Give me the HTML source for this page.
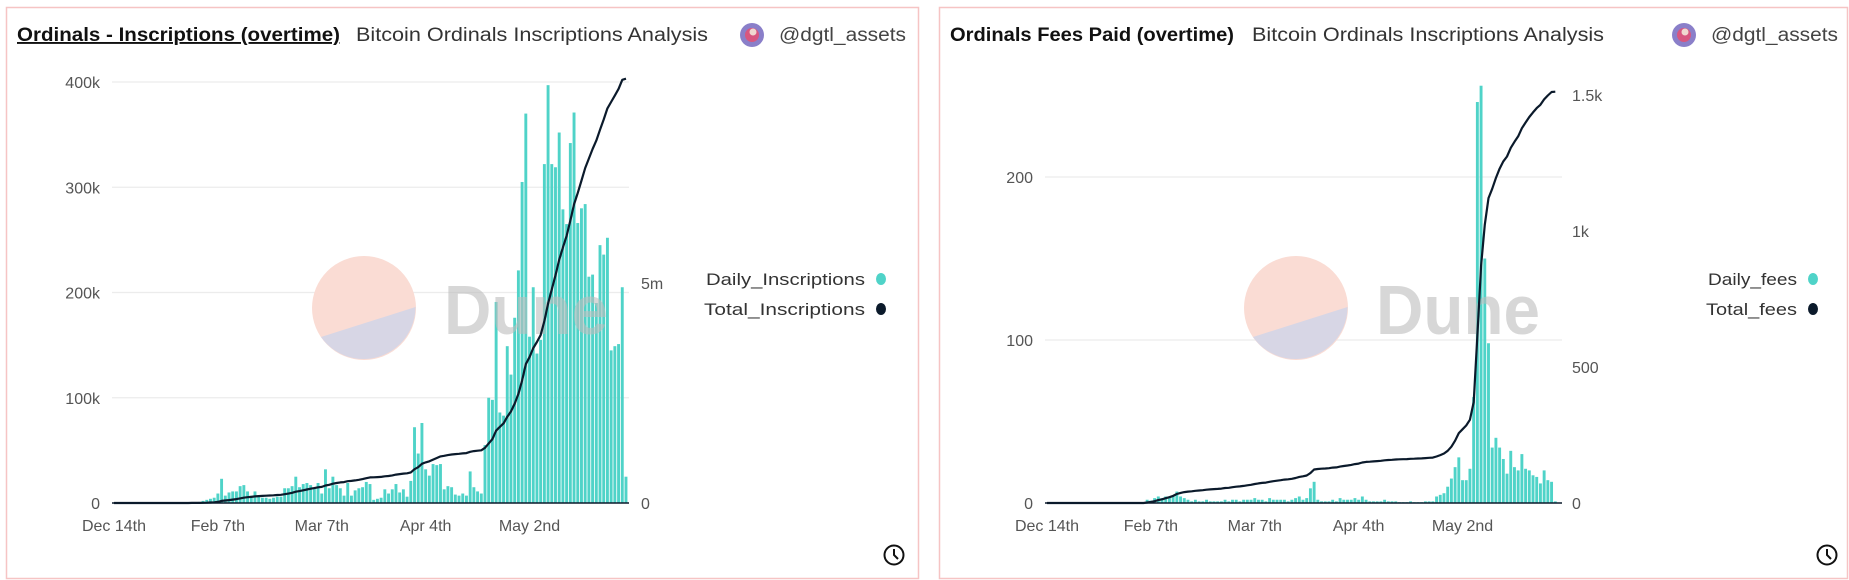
<!DOCTYPE html>
<html><head><meta charset="utf-8"><style>
html,body{margin:0;padding:0;background:#fff;width:1849px;height:580px;overflow:hidden}
svg{display:block;font-family:"Liberation Sans",sans-serif}
</style></head><body>
<svg id="root" width="1849" height="580" viewBox="0 0 1849 580" xmlns="http://www.w3.org/2000/svg">
<g id="p1">
 <rect x="6.5" y="7.5" width="912" height="571" fill="#fff" stroke="#f6c4c4" stroke-width="1.5"/>
 <text x="17" y="41" font-size="19" font-weight="bold" fill="#111" textLength="323" lengthAdjust="spacingAndGlyphs" text-decoration="underline">Ordinals - Inscriptions (overtime)</text>
 <text x="356" y="41" font-size="19" fill="#333" textLength="352" lengthAdjust="spacingAndGlyphs">Bitcoin Ordinals Inscriptions Analysis</text>
 <g><circle cx="752" cy="35" r="12" fill="#8a7fc9"/><circle cx="752" cy="35" r="7" fill="#d8567f"/><circle cx="753" cy="32" r="3.5" fill="#f0d9d0"/></g>
 <text x="779" y="41" font-size="19" fill="#444" textLength="127" lengthAdjust="spacingAndGlyphs">@dgtl_assets</text>
 <g id="c1"></g>
 <g>
  <text x="865" y="285" font-size="17" fill="#333" text-anchor="end" textLength="159" lengthAdjust="spacingAndGlyphs">Daily_Inscriptions</text>
  <ellipse cx="881" cy="279" rx="5" ry="6" fill="#4fd3c8"/>
  <text x="865" y="315" font-size="17" fill="#333" text-anchor="end" textLength="161" lengthAdjust="spacingAndGlyphs">Total_Inscriptions</text>
  <ellipse cx="881" cy="309" rx="5" ry="6" fill="#0b1a2b"/>
 </g>
 <g><circle cx="894" cy="555" r="9.5" fill="none" stroke="#111" stroke-width="2"/><path d="M894 549v6l4 4" fill="none" stroke="#111" stroke-width="2"/></g>
</g>
<g id="p2">
 <rect x="939.5" y="7.5" width="908" height="571" fill="#fff" stroke="#f6c4c4" stroke-width="1.5"/>
 <text x="950" y="41" font-size="19" font-weight="bold" fill="#111" textLength="284" lengthAdjust="spacingAndGlyphs">Ordinals Fees Paid (overtime)</text>
 <text x="1252" y="41" font-size="19" fill="#333" textLength="352" lengthAdjust="spacingAndGlyphs">Bitcoin Ordinals Inscriptions Analysis</text>
 <g><circle cx="1684" cy="35" r="12" fill="#8a7fc9"/><circle cx="1684" cy="35" r="7" fill="#d8567f"/><circle cx="1685" cy="32" r="3.5" fill="#f0d9d0"/></g>
 <text x="1711" y="41" font-size="19" fill="#444" textLength="127" lengthAdjust="spacingAndGlyphs">@dgtl_assets</text>
 <g id="c2"></g>
 <g>
  <text x="1797" y="285" font-size="17" fill="#333" text-anchor="end" textLength="89" lengthAdjust="spacingAndGlyphs">Daily_fees</text>
  <ellipse cx="1813" cy="279" rx="5" ry="6" fill="#4fd3c8"/>
  <text x="1797" y="315" font-size="17" fill="#333" text-anchor="end" textLength="91" lengthAdjust="spacingAndGlyphs">Total_fees</text>
  <ellipse cx="1813" cy="309" rx="5" ry="6" fill="#0b1a2b"/>
 </g>
 <g><circle cx="1827" cy="555" r="9.5" fill="none" stroke="#111" stroke-width="2"/><path d="M1827 549v6l4 4" fill="none" stroke="#111" stroke-width="2"/></g>
</g>
</svg>
<script>
const xTickLabels = ["Dec 14th","Feb 7th","Mar 7th","Apr 4th","May 2nd"];
const xTickIndex = [0,28,56,84,112];
const insLeftTicks = [0,100,200,300,400];
const insLeftTickLabels = ["0","100k","200k","300k","400k"];
const insRightTicks = [0,5000];
const insRightTickLabels = ["0","5m"];
const feeLeftTicks = [0,100,200];
const feeLeftTickLabels = ["0","100","200"];
const feeRightTicks = [0,500,1000,1500];
const feeRightTickLabels = ["0","500","1k","1.5k"];
// daily inscriptions (thousands)
const dailyInscriptions = [
0,0,0,0,0,0,0,0,0,0,0,0,0,0,0,0,0,0,0.3,0.3,0.3,0.3,0.5,
1,2,3,4,5,9,23,7,10,11,11,16,17,11,7,11,6,5,
5,4,5,6,6,14,14,16,25,15,18,19,17,14,19,9,32,14,25,17,14,7,19,7,12,14,15,20,18,3,4,5,13,9,13,18,10,13,6,21,72,47,76,32,26,37,36,37,13,16,15,8,7,9,7,30,15,11,9,55,100,
98,191,86,83,149,122,176,221,305,370,158,205,142,155,322,397,322,319,352,279,265,342,371,266,280,284,215,217,190,245,236,252,145,149,151,205,25];
// daily fees (BTC)
const dailyFees = [
0,0,0,0,0,0,0,0,0,0,0,0,0,0,0,0,0,0,0,0,0,0,0,0,0,0,0,
2,1.5,3,4,3,4,4,4.5,7,4,3,2,1,2,
1,1,2,1,1,1,1,2,1,2,2,1,2,2,2,3,2,2,1,3,2,2,2,2,1,2,3,4,2,3,
9,13,2,
1,1,1,2,1,3,2,2,2,3,2,4,2,1,1,1,1,2,1,1,1,0.5,0.5,0.5,1,0.5,0.5,
0.5,1,1,1,4,5,6,10,15,22,28,14,14,21,65,246,256,150,98,34,40,34,27,18,32,22,20,30,21,20,17,16,12,20,14,13,1];
// running totals (cumulative of the daily series)
const totalInscriptions = []; {let s=0; for (const v of dailyInscriptions){s+=v; totalInscriptions.push(s);} }
const totalFees = []; {let s=0; for (const v of dailyFees){s+=v; totalFees.push(s);} }

const NS="http://www.w3.org/2000/svg";
function mk(parent, tag, attrs, text){const e=document.createElementNS(NS,tag);for(const k in attrs)e.setAttribute(k,attrs[k]);if(text!==undefined)e.textContent=text;parent.appendChild(e);return e;}

function drawChart(cfg){
  const g=document.getElementById(cfg.id);
  const step=3.71, x0=cfg.x0;
  const xs=i=>x0+i*step;
  const yL=v=>cfg.base-v*cfg.kL;
  const yR=v=>cfg.base-v*cfg.kR;
  // grid + left ticks
  cfg.lt.forEach((t,i)=>{
    if(t>0){const gl=mk(g,'line',{x1:cfg.gx0,x2:cfg.gx1,y1:yL(t),y2:yL(t),stroke:'#ececec','stroke-width':1.3});
      
      }
    const tx=mk(g,'text',{x:cfg.lx,y:yL(t)+6,'font-size':16,fill:'#555','text-anchor':'end'},cfg.ltl[i]);
    
    
  });
  cfg.rt.forEach((t,i)=>{
    const tx=mk(g,'text',{x:cfg.rx,y:yR(t)+6,'font-size':16,fill:'#555'},cfg.rtl[i]);
    
    
  });
  xTickIndex.forEach((ix,i)=>{
    const tx=mk(g,'text',{x:xs(ix),y:531,'font-size':16,fill:'#555','text-anchor':'middle'},xTickLabels[i]);
    
    
  });
  // bars
  cfg.daily.forEach((v,i)=>{
    const h=Math.max(0,v*cfg.kL);
    const r=mk(g,'rect',{x:xs(i)-1.45,y:cfg.base-h,width:2.9,height:h,fill:'#4fd3c8'});
    
    
  });
  // watermark
  const wm=mk(g,'g',{});
  
  
  const cx=cfg.wx, cy=308, R=52;
  mk(wm,'circle',{cx:cx,cy:cy,r:R,fill:'#fadcd4'});
  mk(wm,'path',{d:`M${cx-43} ${cy+29} L${cx+51.5} ${cy-1} A${R} ${R} 0 0 1 ${cx-43} ${cy+29} Z`,fill:'#d7d6e5'});
  mk(wm,'text',{x:cx+80,y:334,'font-size':70,'font-weight':'bold',fill:'#bdbdbd','fill-opacity':0.6,textLength:164,lengthAdjust:'spacingAndGlyphs'},'Dune');
  // baseline
  const bl=mk(g,'line',{x1:cfg.gx0,x2:cfg.gx1,y1:cfg.base,y2:cfg.base,stroke:'#0b1a2b','stroke-width':1.6});
  
  
  // total line
  const d=cfg.total.map((v,i)=>(i?'L':'M')+xs(i).toFixed(1)+' '+yR(v).toFixed(1)).join(' ');
  const p=mk(g,'path',{d:d,fill:'none',stroke:'#0b1a2b','stroke-width':2.2,'stroke-linejoin':'round'});
  
  
}
drawChart({id:'c1',x0:114,gx0:112,gx1:629,base:503,kL:421/400,kR:220/5000,daily:dailyInscriptions,total:totalInscriptions,
  lt:insLeftTicks,ltl:insLeftTickLabels,rt:insRightTicks,rtl:insRightTickLabels,lx:100,rx:641,wx:364});
drawChart({id:'c2',x0:1047,gx0:1045,gx1:1562,base:503,kL:1.63,kR:0.272,daily:dailyFees,total:totalFees,
  lt:feeLeftTicks,ltl:feeLeftTickLabels,rt:feeRightTicks,rtl:feeRightTickLabels,lx:1033,rx:1572,wx:1296});
</script>
</body></html>
